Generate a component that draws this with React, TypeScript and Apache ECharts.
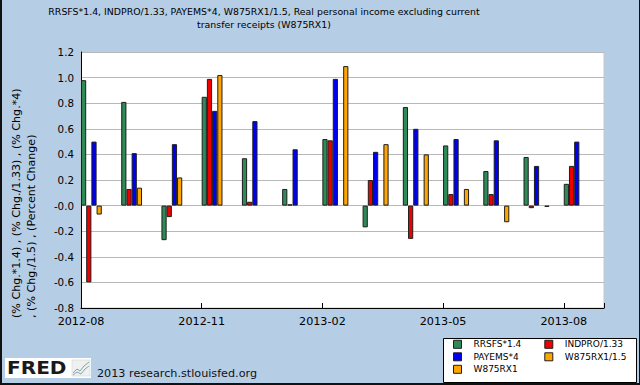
import React, { useEffect, useRef } from "react";
import * as echarts from "echarts";

const months = [
  "2012-08", "2012-09", "2012-10", "2012-11", "2012-12", "2013-01", "2013-02",
  "2013-03", "2013-04", "2013-05", "2013-06", "2013-07", "2013-08",
];
const rrsfs = [0.98, 0.81, -0.27, 0.85, 0.37, 0.13, 0.52, -0.17, 0.77, 0.47, 0.27, 0.38, 0.17];
const indpro = [-0.6, 0.13, -0.09, 0.99, 0.03, 0.01, 0.51, 0.2, -0.26, 0.09, 0.09, -0.02, 0.31];
const payems = [0.5, 0.41, 0.48, 0.74, 0.66, 0.44, 0.99, 0.42, 0.6, 0.52, 0.51, 0.31, 0.5];
const w875Scaled = [-0.07, 0.14, 0.22, 1.02, null, null, null, null, null, null, null, null, null];
const w875 = [null, null, null, null, null, null, 1.09, 0.48, 0.4, 0.13, -0.13, -0.01, null];

const seriesNames = ["RRSFS*1.4", "INDPRO/1.33", "PAYEMS*4", "W875RX1/1.5", "W875RX1"];
const seriesColors = ["#2e8b57", "#ee0000", "#0000ee", "#ffa500", "#ffa500"];
const titleLines = [
  "RRSFS*1.4, INDPRO/1.33, PAYEMS*4, W875RX1/1.5, Real personal income excluding current",
  "transfer receipts (W875RX1)",
];
const yNameLines = [
  "(% Chg.*1.4) , (% Chg./1.33) , (% Chg.*4)",
  ", (% Chg./1.5) , (Percent Change)",
];
const footerText = "2013 research.stlouisfed.org";

const FONT = "'DejaVu Sans', Verdana, sans-serif";

export default function App() {
  const ref = useRef<HTMLDivElement>(null);
  useEffect(() => {
    if (!ref.current) return;
    const chart = echarts.init(ref.current, undefined, { renderer: "svg" });
    const allData = [rrsfs, indpro, payems, w875Scaled, w875];
    const barSeries: any[] = allData.map((d, i) => ({
      name: seriesNames[i],
      type: "bar",
      xAxisIndex: 0,
      yAxisIndex: 0,
      data: d,
      barWidth: 5.2,
      barGap: 0,
      itemStyle: { color: seriesColors[i], borderColor: "#1e1e1e", borderWidth: 1 },
    }));
    barSeries.push({
      name: "_pad",
      type: "bar",
      xAxisIndex: 0,
      yAxisIndex: 0,
      data: months.map(() => null),
      barWidth: 14.25,
      barGap: 0,
      silent: true,
      itemStyle: { color: "transparent" },
    });
    const legendCommon = {
      orient: "vertical",
      padding: 0,
      itemWidth: 8,
      itemHeight: 8,
      itemGap: 2.5,
      icon: "rect",
      itemStyle: { borderColor: "#1e1e1e", borderWidth: 1 },
      textStyle: {
        fontFamily: FONT,
        fontSize: 9,
        color: "#000",
        lineHeight: 10,
        padding: [0, 0, 0, 7],
      },
      selectedMode: false,
    };
    chart.setOption({
      animation: false,
      backgroundColor: "transparent",
      title: {
        text: titleLines.join("\n"),
        left: 259,
        top: 0,
        textAlign: "center",
        textStyle: {
          fontFamily: FONT,
          fontSize: 9.4,
          fontWeight: "normal",
          color: "#000",
          lineHeight: 13.3,
        },
      },
      grid: {
        left: 81,
        right: 36,
        top: 52,
        bottom: 77,
        show: true,
        backgroundColor: "#ffffff",
        borderColor: "#c8c8c8",
        borderWidth: 1,
      },
      legend: [
        { ...legendCommon, left: 453, top: 339.3, data: [seriesNames[0], seriesNames[2], seriesNames[4]] },
        { ...legendCommon, left: 544.3, top: 339.3, data: [seriesNames[1], seriesNames[3]] },
      ],
      xAxis: [
        {
          type: "category",
          data: months,
          show: false,
          boundaryGap: true,
        },
        {
          type: "value",
          min: 0,
          max: months.length,
          interval: 3,
          position: "bottom",
          axisLine: { show: true, lineStyle: { color: "#000", width: 1 } },
          axisTick: { show: true, inside: true, length: 5, lineStyle: { color: "#000" } },
          splitLine: { show: false },
          axisLabel: {
            fontFamily: FONT,
            fontSize: 11.2,
            color: "#000",
            margin: 8,
            formatter: (v: number) => months[v] ?? "",
          },
        },
      ],
      yAxis: {
        type: "value",
        min: -0.8,
        max: 1.2,
        interval: 0.2,
        axisLine: { show: true, lineStyle: { color: "#000", width: 1 } },
        axisTick: { show: false },
        splitLine: { show: true, lineStyle: { color: "#b8b8b8", width: 1 } },
        axisLabel: {
          fontFamily: FONT,
          fontSize: 10.3,
          color: "#000",
          margin: 7,
          formatter: (v: number) => (Math.abs(v) < 1e-9 ? "-0.0" : v.toFixed(1)),
        },
      },
      series: barSeries,
      graphic: [
        {
          type: "rect",
          z: 0,
          shape: { x: 443.5, y: 338.5, width: 193, height: 44 },
          style: { fill: "#ffffff", stroke: "#000000", lineWidth: 1 },
        },
        {
          type: "text",
          x: 24,
          y: 318,
          rotation: Math.PI / 2,
          style: {
            text: yNameLines.join("\n"),
            font: `11.1px ${FONT}`,
            fill: "#000",
            align: "left",
            verticalAlign: "middle",
            lineHeight: 15,
          },
        },
        {
          type: "rect",
          shape: { x: 5, y: 358, width: 86, height: 20 },
          style: { fill: "#ffffff" },
        },
        {
          type: "text",
          x: 7,
          y: 368.5,
          scaleX: 1.18,
          style: {
            text: "FRED",
            font: `bold 17px ${FONT}`,
            fill: "#1a1a1a",
            align: "left",
            verticalAlign: "middle",
          },
        },
        {
          type: "rect",
          shape: { x: 72, y: 360, width: 18, height: 16 },
          style: { fill: "#eef1ef", stroke: "#c9d2cc", lineWidth: 0.5 },
        },
        {
          type: "polyline",
          shape: { points: [[73, 373], [77, 369], [80, 371], [84, 366], [89, 362]] },
          style: { stroke: "#7fa88f", lineWidth: 1, fill: null },
        },
        {
          type: "polyline",
          shape: { points: [[73, 375], [77, 372], [81, 374], [85, 369], [89, 366]] },
          style: { stroke: "#8aa0c0", lineWidth: 1, fill: null },
        },
        {
          type: "text",
          x: 97,
          y: 373,
          style: {
            text: footerText,
            font: `11.2px ${FONT}`,
            fill: "#111",
            align: "left",
            verticalAlign: "middle",
          },
        },
      ],
    });
    return () => chart.dispose();
  }, []);
  return (
    <div style={{ position: "fixed", left: 0, top: 0, width: 640, height: 385, background: "#b5cde5" }}>
      <div ref={ref} style={{ position: "absolute", left: 0, top: 0, width: 640, height: 385 }} />
      <div
        style={{
          position: "absolute",
          left: 0,
          top: 0,
          width: 640,
          height: 385,
          boxSizing: "border-box",
          borderLeft: "2px solid #111",
          borderBottom: "2px solid #111",
          borderRight: "1px solid #111",
          pointerEvents: "none",
        }}
      />
    </div>
  );
}
